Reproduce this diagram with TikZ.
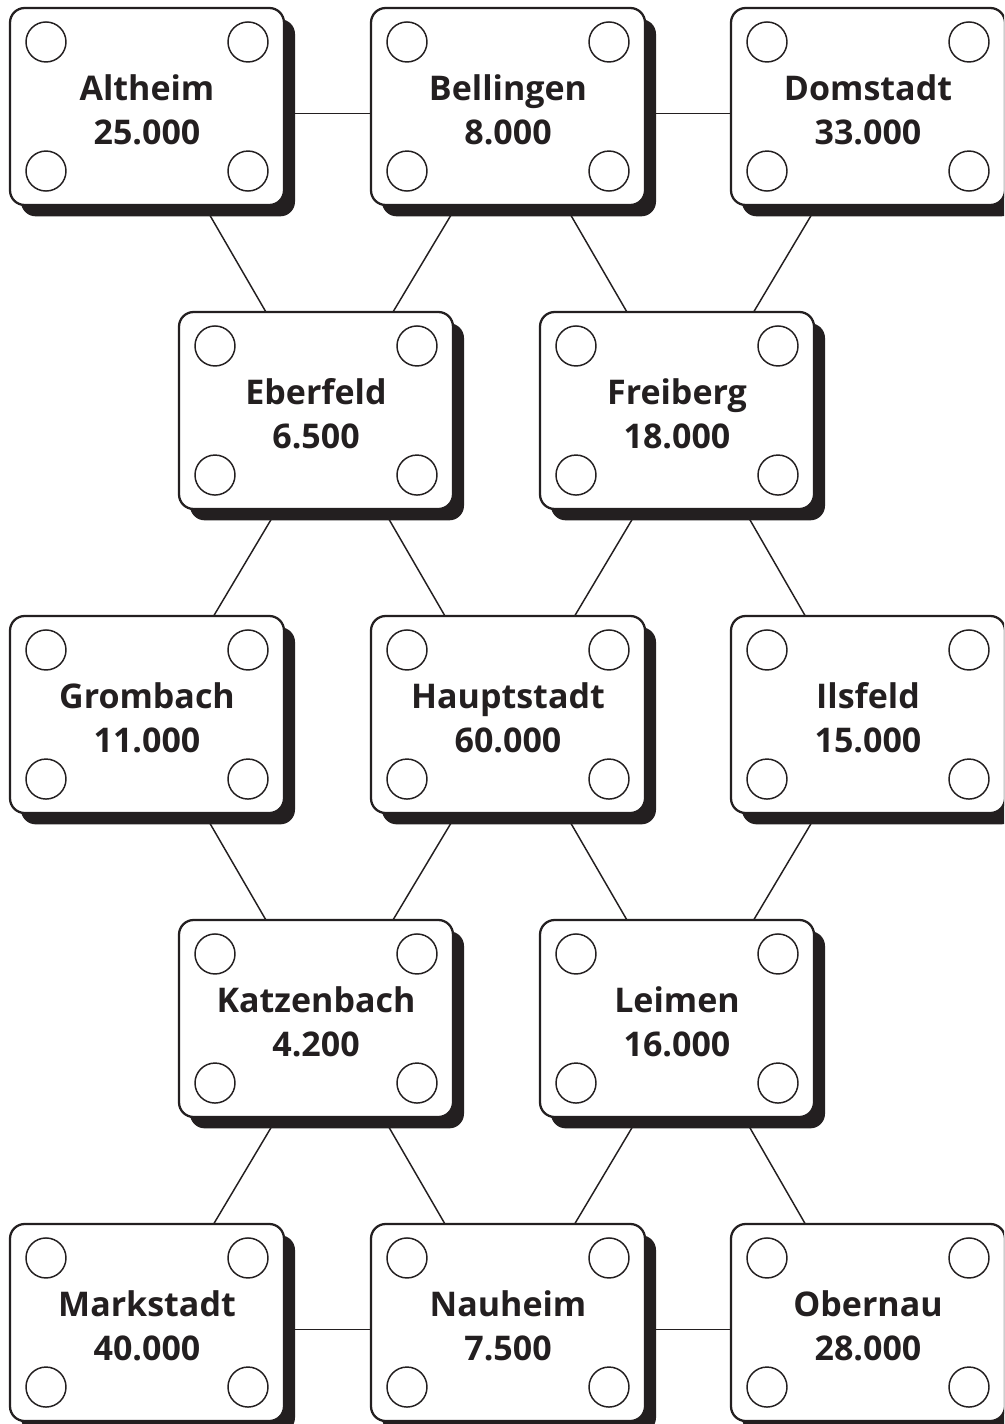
\documentclass[tikz,border=0pt]{standalone}
\usepackage{fontspec}
\setmainfont{Open Sans}
\usetikzlibrary{shadows,calc}
\definecolor{ink}{HTML}{231F20}
\pgfdeclarelayer{bg}
\pgfsetlayers{bg,main}
\tikzset{
  town/.style={draw=ink, fill=white, line width=1.7pt, rounded corners=11pt,
    minimum width=205.5pt, minimum height=147.75pt, inner sep=0pt, align=center,
    font=\bfseries\fontsize{25.5}{33}\selectfont, text=ink,
    general shadow={fill=ink, shadow xshift=8.25pt, shadow yshift=-8.5pt}},
  hole/.style={draw=ink, line width=1.1pt, fill=white},
  link/.style={draw=ink, line width=1.1pt},
}
\newcommand\townbox[4]{%
  \node[town] (#1) at (#2,#3) {\rule{0pt}{24pt}#4};
  \foreach \sx in {-1,1} \foreach \sy in {-1,1}
    \draw[hole] ($(#1.center)+(\sx*75.75pt,\sy*48.4pt)$) circle (15pt);
}
\begin{document}
\begin{tikzpicture}[x=0.75pt,y=-0.75pt]
\useasboundingbox (0,0) rectangle (1004,1424);
\clip (0,0) rectangle (1004,1424);
\townbox{al}{147}{106.5}{Altheim\\25.000}
\townbox{be}{508}{106.5}{Bellingen\\8.000}
\townbox{do}{868}{106.5}{Domstadt\\33.000}
\townbox{eb}{316}{410.5}{Eberfeld\\6.500}
\townbox{fr}{677}{410.5}{Freiberg\\18.000}
\townbox{gr}{147}{714.5}{Grombach\\11.000}
\townbox{ha}{508}{714.5}{Hauptstadt\\60.000}
\townbox{il}{868}{714.5}{Ilsfeld\\15.000}
\townbox{ka}{316}{1018.5}{Katzenbach\\4.200}
\townbox{le}{677}{1018.5}{Leimen\\16.000}
\townbox{ma}{147}{1322.5}{Markstadt\\40.000}
\townbox{na}{508}{1322.5}{Nauheim\\7.500}
\townbox{ob}{868}{1322.5}{Obernau\\28.000}
\begin{pgfonlayer}{bg}
  % horizontal
  \draw[link] ($(al)+(0,7)$) -- ($(be)+(0,7)$);
  \draw[link] ($(be)+(0,7)$) -- ($(do)+(0,7)$);
  \draw[link] ($(ma)+(0,7)$) -- ($(na)+(0,7)$);
  \draw[link] ($(na)+(0,7)$) -- ($(ob)+(0,7)$);
  % row 1 -> 2
  \draw[link] (al) -- ($(eb)+(7,0)$);
  \draw[link] ($(be)+(8,0)$) -- ($(eb)+(18,0)$);
  \draw[link] (be) -- ($(fr)+(7,0)$);
  \draw[link] ($(do)+(8,0)$) -- ($(fr)+(18,0)$);
  % row 2 -> 3
  \draw[link] ($(eb)+(20,0)$) -- ($(gr)+(8,0)$);
  \draw[link] ($(eb)+(10,0)$) -- ($(ha)+(-6,0)$);
  \draw[link] ($(fr)+(20,0)$) -- ($(ha)+(8,0)$);
  \draw[link] ($(fr)+(10,0)$) -- ($(il)+(-6,0)$);
  % row 3 -> 4
  \draw[link] (gr) -- ($(ka)+(7,0)$);
  \draw[link] ($(ha)+(8,0)$) -- ($(ka)+(18,0)$);
  \draw[link] (ha) -- ($(le)+(7,0)$);
  \draw[link] ($(il)+(8,0)$) -- ($(le)+(18,0)$);
  % row 4 -> 5
  \draw[link] ($(ka)+(20,0)$) -- ($(ma)+(8,0)$);
  \draw[link] ($(ka)+(10,0)$) -- ($(na)+(-6,0)$);
  \draw[link] ($(le)+(20,0)$) -- ($(na)+(8,0)$);
  \draw[link] ($(le)+(10,0)$) -- ($(ob)+(-6,0)$);
\end{pgfonlayer}
\end{tikzpicture}
\end{document}
